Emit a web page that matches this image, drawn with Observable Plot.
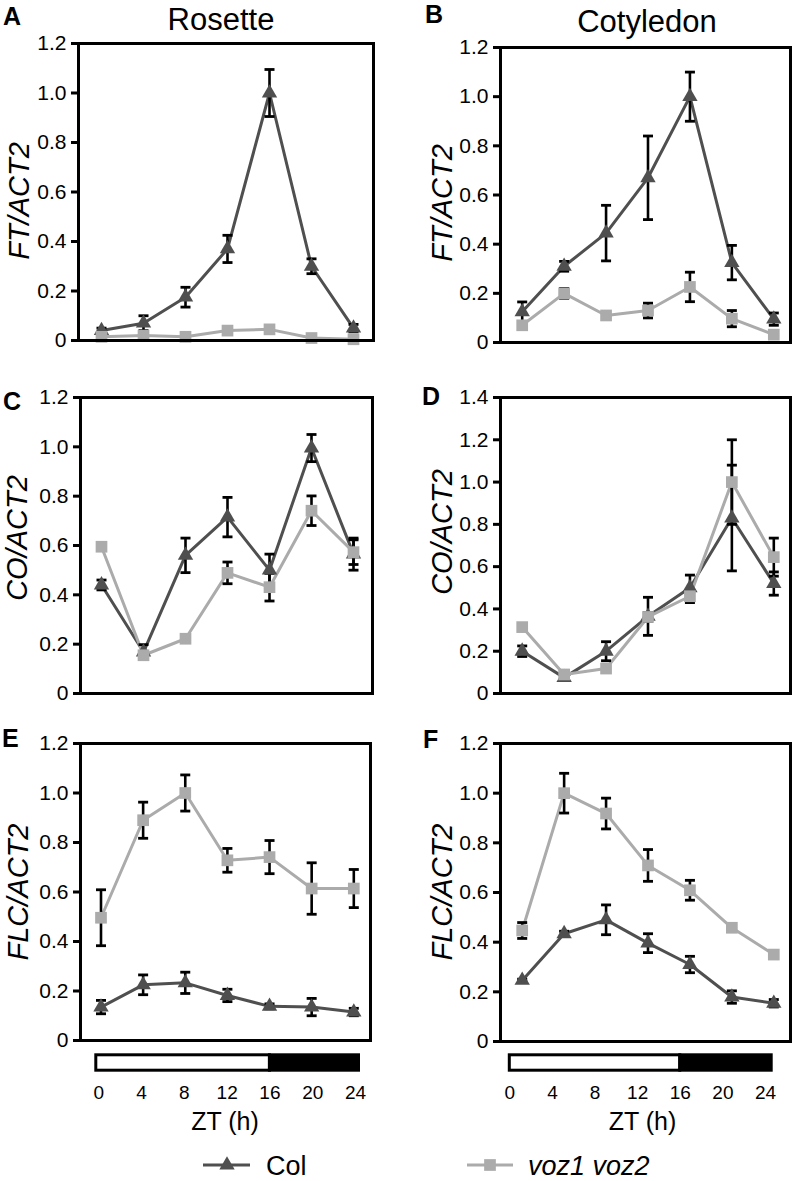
<!DOCTYPE html>
<html>
<head>
<meta charset="utf-8">
<script src="https://cdn.jsdelivr.net/npm/d3@7"></script>
<script src="https://cdn.jsdelivr.net/npm/@observablehq/plot@0.6"></script>
<style>
  body { margin: 0; background: #fff; }
  #root { position: relative; width: 797px; height: 1181px; overflow: hidden; background: #fff;
          font-family: "Liberation Sans", Arial, sans-serif; }
  #root svg { position: absolute; }
</style>
</head>
<body>
<div id="root"></div>
<script>
// ---------------- data ----------------
const zt = [0, 4, 8, 12, 16, 20, 24];
const genotypes = ["Col", "voz1 voz2"];

// A: FT/ACT2, rosette
const ftRosetteCol    = [0.04, 0.07, 0.175, 0.37, 1.0, 0.30, 0.05];
const ftRosetteColErr = [0.01, 0.03, 0.04, 0.055, 0.095, 0.03, 0.015];
const ftRosetteVoz    = [0.015, 0.02, 0.015, 0.04, 0.045, 0.01, 0.005];
const ftRosetteVozErr = [0.004, 0.004, 0.004, 0.004, 0.004, 0.004, 0.004];
// B: FT/ACT2, cotyledon
const ftCotCol    = [0.125, 0.31, 0.445, 0.67, 1.0, 0.325, 0.095];
const ftCotColErr = [0.04, 0.02, 0.113, 0.17, 0.1, 0.07, 0.025];
const ftCotVoz    = [0.07, 0.2, 0.11, 0.13, 0.226, 0.097, 0.032];
const ftCotVozErr = [0.01, 0.02, 0.008, 0.03, 0.06, 0.033, 0.004];
// C: CO/ACT2, rosette
const coRosetteCol    = [0.44, 0.168, 0.56, 0.715, 0.50, 0.995, 0.565];
const coRosetteColErr = [0.02, 0.03, 0.07, 0.08, 0.065, 0.055, 0.065];
const coRosetteVoz    = [0.595, 0.155, 0.222, 0.489, 0.431, 0.741, 0.573];
const coRosetteVozErr = [0.004, 0.01, 0.015, 0.044, 0.056, 0.06, 0.05];
// D: CO/ACT2, cotyledon
const coCotCol    = [0.2, 0.075, 0.2, 0.365, 0.5, 0.83, 0.52];
const coCotColErr = [0.025, 0.01, 0.045, 0.09, 0.06, 0.25, 0.055];
const coCotVoz    = [0.314, 0.09, 0.118, 0.362, 0.46, 1.0, 0.645];
const coCotVozErr = [0.004, 0.01, 0.01, 0.02, 0.03, 0.2, 0.09];
// E: FLC/ACT2, rosette
const flcRosetteCol    = [0.135, 0.225, 0.233, 0.182, 0.138, 0.135, 0.115];
const flcRosetteColErr = [0.027, 0.04, 0.043, 0.025, 0.01, 0.035, 0.015];
const flcRosetteVoz    = [0.496, 0.89, 1.0, 0.728, 0.741, 0.614, 0.614];
const flcRosetteVozErr = [0.113, 0.073, 0.073, 0.048, 0.067, 0.104, 0.077];
// F: FLC/ACT2, cotyledon
const flcCotCol    = [0.246, 0.434, 0.49, 0.396, 0.31, 0.179, 0.154];
const flcCotColErr = [0.005, 0.01, 0.06, 0.038, 0.033, 0.025, 0.015];
const flcCotVoz    = [0.447, 1.0, 0.918, 0.709, 0.609, 0.458, 0.35];
const flcCotVozErr = [0.032, 0.08, 0.062, 0.064, 0.04, 0.01, 0.015];

const ticks12 = [0, 0.2, 0.4, 0.6, 0.8, 1.0, 1.2];
const ticks14 = [0, 0.2, 0.4, 0.6, 0.8, 1.0, 1.2, 1.4];
const photoperiod = [{start: 0, end: 16, phase: "light"}, {start: 16, end: 24, phase: "dark"}];

// ---------------- style / layout ----------------
const colColor = "#4f4f4f";
const vozColor = "#ababab";
const FONT = "'Liberation Sans', Arial, Helvetica, sans-serif";
const root = document.getElementById("root");

const capSymbol = {
  draw(ctx, size) { const w = Math.sqrt(size / Math.PI); ctx.moveTo(-w, 0); ctx.lineTo(w, 0); }
};
const fmt = d => d === 0 ? "0" : d3.format(".1f")(d);

function rowsOf(col, colErr, voz, vozErr) {
  return zt.flatMap((t, i) => [
    {t, v: col[i], e: colErr[i], g: genotypes[0]},
    {t, v: voz[i], e: vozErr[i], g: genotypes[1]}
  ]);
}

const panels = [
  {letter: "A", label: "FT/ACT2", data: rowsOf(ftRosetteCol, ftRosetteColErr, ftRosetteVoz, ftRosetteVozErr), ticks: ticks12,
   left: 0, top: 0, w: 400, h: 360, ml: 78, mr: 27, mt: 43, mb: 20, xr: [101, 353]},
  {letter: "B", label: "FT/ACT2", data: rowsOf(ftCotCol, ftCotColErr, ftCotVoz, ftCotVozErr), ticks: ticks12,
   left: 400, top: 0, w: 397, h: 360, ml: 100, mr: 7, mt: 47, mb: 18, xr: [121.7, 373.3]},
  {letter: "C", label: "CO/ACT2", data: rowsOf(coRosetteCol, coRosetteColErr, coRosetteVoz, coRosetteVozErr), ticks: ticks12,
   left: 0, top: 360, w: 400, h: 360, ml: 80, mr: 28, mt: 37, mb: 27, xr: [101, 353]},
  {letter: "D", label: "CO/ACT2", data: rowsOf(coCotCol, coCotColErr, coCotVoz, coCotVozErr), ticks: ticks14,
   left: 400, top: 360, w: 397, h: 360, ml: 100, mr: 7, mt: 37, mb: 27, xr: [121.7, 373.3]},
  {letter: "E", label: "FLC/ACT2", data: rowsOf(flcRosetteCol, flcRosetteColErr, flcRosetteVoz, flcRosetteVozErr), ticks: ticks12,
   left: 0, top: 720, w: 400, h: 340, ml: 80, mr: 30, mt: 23, mb: 20, xr: [100.5, 353.3]},
  {letter: "F", label: "FLC/ACT2", data: rowsOf(flcCotCol, flcCotColErr, flcCotVoz, flcCotVozErr), ticks: ticks12,
   left: 400, top: 720, w: 397, h: 340, ml: 100, mr: 7, mt: 23, mb: 19, xr: [121.7, 373.3]}
];

for (const p of panels) {
  const col = p.data.filter(d => d.g === genotypes[0]);
  const voz = p.data.filter(d => d.g === genotypes[1]);
  const svg = Plot.plot({
    width: p.w, height: p.h,
    marginLeft: p.ml, marginRight: p.mr, marginTop: p.mt, marginBottom: p.mb,
    x: {domain: [0, 24], range: p.xr, axis: null},
    y: {domain: [0, d3.max(p.ticks)], axis: null},
    style: {fontFamily: FONT, fontSize: "21px", color: "black", background: "transparent", overflow: "visible"},
    marks: [
      Plot.axisY({ticks: p.ticks, tickFormat: fmt, tickSize: 7, tickPadding: 5, strokeWidth: 3, fontSize: 21, label: null}),
      Plot.lineY(col, {x: "t", y: "v", stroke: colColor, strokeWidth: 3}),
      Plot.lineY(voz, {x: "t", y: "v", stroke: vozColor, strokeWidth: 3}),
      Plot.ruleX(p.data, {x: "t", y1: d => d.v - d.e, y2: d => d.v + d.e, stroke: "black", strokeWidth: 2.6}),
      Plot.dot(p.data, {x: "t", y: d => d.v + d.e, symbol: capSymbol, r: 5, fill: "none", stroke: "black", strokeWidth: 2.8}),
      Plot.dot(p.data, {x: "t", y: d => d.v - d.e, symbol: capSymbol, r: 5, fill: "none", stroke: "black", strokeWidth: 2.8}),
      Plot.dot(col, {x: "t", y: "v", symbol: "triangle", r: 5.7, fill: colColor, stroke: "none"}),
      Plot.dot(voz, {x: "t", y: "v", symbol: "square", r: 6.6, fill: vozColor, stroke: "none"}),
      Plot.frame({stroke: "black", strokeWidth: 3})
    ]
  });
  svg.style.left = p.left + "px";
  svg.style.top = p.top + "px";
  root.appendChild(svg);
}

// ZT photoperiod bars with hour ticks
const bars = [
  {left: 0, top: 1040, w: 400, xr: [98.3, 355], insL: -2.5, insR: -3.5},
  {left: 400, top: 1040, w: 397, xr: [109.3, 365], insL: 0, insR: -6.2}
];
for (const b of bars) {
  const svg = Plot.plot({
    width: b.w, height: 100,
    marginTop: 14.8, marginBottom: 69.8, marginLeft: 0, marginRight: 0,
    x: {domain: [0, 24], range: b.xr, axis: null},
    style: {fontFamily: FONT, fontSize: "19px", color: "black", background: "transparent", overflow: "visible"},
    marks: [
      Plot.rect(photoperiod.filter(d => d.phase === "light"), {x1: "start", x2: "end", fill: "white", stroke: "black", strokeWidth: 3, insetLeft: b.insL}),
      Plot.rect(photoperiod.filter(d => d.phase === "dark"), {x1: "start", x2: "end", fill: "black", stroke: "black", strokeWidth: 3, insetRight: b.insR}),
      Plot.axisX({ticks: zt, tickSize: 0, tickPadding: 14.8, fontSize: 19, label: null})
    ]
  });
  svg.style.left = b.left + "px";
  svg.style.top = b.top + "px";
  root.appendChild(svg);
}

// ---------------- annotations (letters, titles, y labels, x labels, legend) ----------------
const ov = d3.select(root).append("svg")
  .attr("width", 797).attr("height", 1181)
  .style("left", "0px").style("top", "0px").style("pointer-events", "none")
  .style("font-family", FONT);

const letters = [
  {t: "A", x: 3, y: 25}, {t: "B", x: 425, y: 23}, {t: "C", x: 3, y: 410},
  {t: "D", x: 422, y: 405}, {t: "E", x: 2, y: 747}, {t: "F", x: 423, y: 748}
];
ov.selectAll("text.letter").data(letters).join("text").attr("class", "letter")
  .attr("x", d => d.x).attr("y", d => d.y).attr("font-size", 25).attr("font-weight", "bold").text(d => d.t);

ov.append("text").attr("x", 221).attr("y", 30).attr("text-anchor", "middle").attr("font-size", 31).text("Rosette");
ov.append("text").attr("x", 647).attr("y", 32).attr("text-anchor", "middle").attr("font-size", 31).text("Cotyledon");

const ylabels = [
  {t: "FT/ACT2", x: 18.5, y: 201}, {t: "FT/ACT2", x: 441.5, y: 203},
  {t: "CO/ACT2", x: 17, y: 538}, {t: "CO/ACT2", x: 441.5, y: 532},
  {t: "FLC/ACT2", x: 17.5, y: 892}, {t: "FLC/ACT2", x: 441.5, y: 892}
];
ov.selectAll("text.ylab").data(ylabels).join("text").attr("class", "ylab")
  .attr("transform", d => `translate(${d.x},${d.y}) rotate(-90)`)
  .attr("text-anchor", "middle").attr("dominant-baseline", "central")
  .attr("font-size", 29).attr("font-style", "italic").text(d => d.t);

ov.append("text").attr("x", 225).attr("y", 1130).attr("text-anchor", "middle").attr("font-size", 25).text("ZT (h)");
ov.append("text").attr("x", 642.5).attr("y", 1130).attr("text-anchor", "middle").attr("font-size", 25).text("ZT (h)");

// legend
const ly = 1165;
ov.append("line").attr("x1", 203).attr("x2", 250).attr("y1", ly).attr("y2", ly).attr("stroke", colColor).attr("stroke-width", 3);
ov.append("path").attr("d", d3.symbol(d3.symbolTriangle, Math.PI * 5.7 * 5.7)()).attr("transform", `translate(227,${ly})`).attr("fill", colColor);
ov.append("text").attr("x", 266).attr("y", ly + 9.5).attr("font-size", 27).text(genotypes[0]);
ov.append("line").attr("x1", 467).attr("x2", 513).attr("y1", ly).attr("y2", ly).attr("stroke", vozColor).attr("stroke-width", 3);
ov.append("path").attr("d", d3.symbol(d3.symbolSquare, Math.PI * 6.6 * 6.6)()).attr("transform", `translate(490,${ly})`).attr("fill", vozColor);
ov.append("text").attr("x", 528).attr("y", ly + 9.5).attr("font-size", 27).attr("font-style", "italic").text(genotypes[1]);
</script>
</body>
</html>
